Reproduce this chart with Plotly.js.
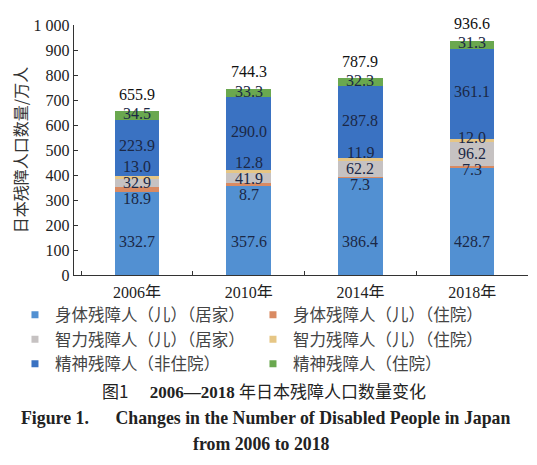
<!DOCTYPE html>
<html>
<head>
<meta charset="utf-8">
<script src="https://cdn.plot.ly/plotly-3.0.1.min.js"></script>
<style>html,body{margin:0;padding:0;background:#fff;}#chart{width:537px;height:465px;}</style>
</head>
<body>
<div id="chart"></div>
<script>
// ---- data ----
var years = ['2006年', '2010年', '2014年', '2018年'];
var physHome = [332.7, 357.6, 386.4, 428.7];   // 身体残障人（儿）（居家）
var physInst = [18.9, 8.7, 7.3, 7.3];          // 身体残障人（儿）（住院）
var intelHome = [32.9, 41.9, 62.2, 96.2];      // 智力残障人（儿）（居家）
var intelInst = [13.0, 12.8, 11.9, 12.0];      // 智力残障人（儿）（住院）
var mentalOut = [223.9, 290.0, 287.8, 361.1];  // 精神残障人（非住院）
var mentalIn = [34.5, 33.3, 32.3, 31.3];       // 精神残障人（住院）
var totals = [655.9, 744.3, 787.9, 936.6];
var seriesNames = ['身体残障人（儿）（居家）', '身体残障人（儿）（住院）', '智力残障人（儿）（居家）', '智力残障人（儿）（住院）', '精神残障人（非住院）', '精神残障人（住院）'];
var yTickVals = [0, 100, 200, 300, 400, 500, 600, 700, 800, 900, 1000];
var yTickText = ['0', '100', '200', '300', '400', '500', '600', '700', '800', '900', '1 000'];

// ---- styles ----
var series = [physHome, physInst, intelHome, intelInst, mentalOut, mentalIn];
var colors = ['#5290d2', '#d98a62', '#c6c2c2', '#e6c685', '#3a72c2', '#6aa84f'];
var serif = 'Liberation Serif, Noto Sans CJK SC, serif';
var cjk = 'Noto Sans CJK SC, sans-serif';
var labelColor = '#1b2846';

var traces = series.map(function (vals, i) {
  return {
    type: 'bar',
    x: years,
    y: vals,
    name: seriesNames[i],
    legendgroup: 'g' + i,
    showlegend: false,
    width: 0.4,
    marker: {color: colors[i], line: {width: 0}},
    hoverinfo: 'skip'
  };
});
// legend entries drawn with small square swatches (same series, same colours)
series.forEach(function (vals, i) {
  traces.push({
    type: 'scatter', mode: 'markers',
    x: [null], y: [null],
    name: seriesNames[i],
    legendgroup: 'g' + i,
    showlegend: true,
    marker: {symbol: 'square', size: 7, color: colors[i]},
    hoverinfo: 'skip'
  });
});

// label placement rules per series:
// 'base' = near the axis; 'center' = centre of own segment;
// 'grp' = stacked around the centre of the 3rd segment (small segments)
var placement = [
  {mode: 'base', shift: 34},
  {mode: 'grp', shift: -16},
  {mode: 'center', shift: 0},
  {mode: 'grp', shift: 16},
  {mode: 'center', shift: 2},
  {mode: 'center', shift: 2}
];

var annotations = [];
years.forEach(function (yr, j) {
  var cum = 0;
  var grpCenter = physHome[j] + physInst[j] + intelHome[j] / 2;
  series.forEach(function (vals, i) {
    var v = vals[j];
    var p = placement[i];
    var yy = p.mode === 'base' ? 0 : (p.mode === 'grp' ? grpCenter : cum + v / 2);
    annotations.push({
      x: yr, y: yy, xref: 'x', yref: 'y', text: v.toFixed(1), showarrow: false,
      yanchor: 'middle', yshift: p.shift,
      font: {family: serif, size: 16, color: labelColor}
    });
    cum += v;
  });
  annotations.push({
    x: yr, y: totals[j], xref: 'x', yref: 'y', text: totals[j].toFixed(1), showarrow: false,
    yanchor: 'middle', yshift: 17,
    font: {family: serif, size: 16, color: '#111'}
  });
});

// captions
annotations.push({
  xref: 'paper', yref: 'paper', x: 0.419, y: -0.46, yanchor: 'middle', xanchor: 'center', showarrow: false,
  text: '<span style="font-family:Noto Sans CJK SC">图1</span>\u00a0\u00a0\u00a0\u00a0\u00a0<b>2006—2018</b> <span style="font-family:Noto Sans CJK SC">年日本残障人口数量变化</span>',
  font: {family: 'Liberation Serif, serif', size: 17, color: '#222'}
});
annotations.push({
  xref: 'paper', yref: 'paper', x: 0.421, y: -0.572, yanchor: 'middle', xanchor: 'center', showarrow: false,
  text: '<b>Figure 1.\u00a0\u00a0\u00a0\u00a0\u00a0\u00a0Changes in the Number of Disabled People in Japan</b>',
  font: {family: 'Liberation Serif, serif', size: 17.8, color: '#222'}
});
annotations.push({
  xref: 'paper', yref: 'paper', x: 0.414, y: -0.676, yanchor: 'middle', xanchor: 'center', showarrow: false,
  text: '<b>from 2006 to 2018</b>',
  font: {family: 'Liberation Serif, serif', size: 17.8, color: '#222'}
});

var layout = {
  width: 537, height: 465,
  margin: {l: 74, r: 9, t: 25, b: 190},
  paper_bgcolor: '#fff', plot_bgcolor: '#fff',
  barmode: 'stack',
  showlegend: true,
  legend: {
    orientation: 'h', x: -0.13, xanchor: 'left', y: -0.09, yanchor: 'top',
    entrywidth: 193, entrywidthmode: 'pixels', traceorder: 'normal',
    font: {family: cjk, size: 16.5, color: '#444'},
    itemclick: false, itemdoubleclick: false
  },
  xaxis: {
    type: 'category', range: [-0.563, 3.5],
    showline: true, linecolor: '#333', linewidth: 1.2,
    ticks: 'inside', ticklen: 4, tickcolor: '#333', tickson: 'boundaries',
    showgrid: false, zeroline: false, ticklabelstandoff: 3,
    tickfont: {family: serif, size: 16, color: '#222'}
  },
  yaxis: {
    range: [0, 1000], tickvals: yTickVals, ticktext: yTickText,
    showline: true, linecolor: '#333', linewidth: 1.2,
    ticks: 'inside', ticklen: 4, tickcolor: '#333',
    showgrid: false, zeroline: false,
    tickfont: {family: serif, size: 16, color: '#222'},
    title: {text: '日本残障人口数量/万人', font: {family: cjk, size: 16, color: '#333'}, standoff: 2}
  },
  annotations: annotations
};

Plotly.newPlot('chart', traces, layout, {displayModeBar: false, staticPlot: true});
</script>
</body>
</html>
